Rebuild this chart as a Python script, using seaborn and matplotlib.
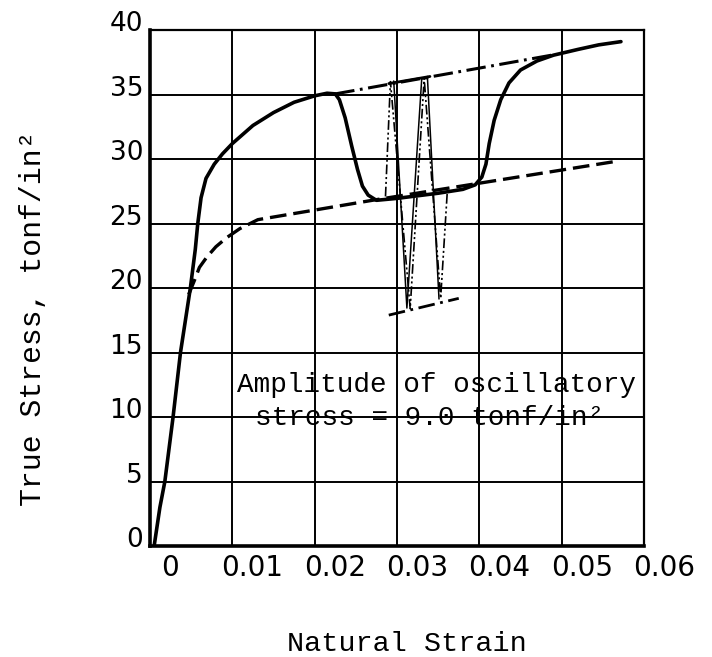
import pandas as pd
import matplotlib
matplotlib.use("Agg")
import matplotlib.pyplot as plt
import matplotlib.transforms as mtransforms
import seaborn as sns

# ===== DADOS =====
# curva continua: ensaio com tensao oscilatoria
solid_strain = [0.0005, 0.0012, 0.0018, 0.0028, 0.0037, 0.0049, 0.0055, 0.0058, 0.0062,
                0.0068, 0.0078, 0.0088, 0.0100, 0.0125, 0.0150, 0.0175, 0.0200, 0.0215,
                0.0225, 0.0230, 0.0237, 0.0245, 0.0252, 0.0258, 0.0265, 0.0275, 0.0300,
                0.0350, 0.0380, 0.0395, 0.0403, 0.0408, 0.0412, 0.0418, 0.0426, 0.0436,
                0.0450, 0.0470, 0.0490, 0.0520, 0.0545, 0.0572]
solid_stress = [0.0, 3.0, 5.0, 10.0, 15.0, 20.0, 23.0, 25.0, 27.0,
                28.5, 29.6, 30.4, 31.2, 32.6, 33.6, 34.4, 34.9, 35.1,
                35.05, 34.6, 33.2, 31.0, 29.2, 27.9, 27.2, 26.8, 26.95,
                27.35, 27.65, 28.0, 28.6, 29.6, 31.2, 33.0, 34.6, 35.9,
                36.9, 37.6, 38.05, 38.5, 38.85, 39.1]

# curva tracejada: ensaio estatico
dashed_strain = [0.0047, 0.0054, 0.0060, 0.0069, 0.0080, 0.0093, 0.0109, 0.0131, 0.0270, 0.0564]
dashed_stress = [19.5, 20.6, 21.6, 22.4, 23.2, 23.9, 24.6, 25.3, 26.8, 29.8]

# linha traco-ponto superior (envelope)
upper_strain = [0.0225, 0.0492]
upper_stress = [35.05, 38.1]

# oscilacao (linhas finas)
osc_strain = [0.0286, 0.0292, 0.0316, 0.0333, 0.0353, 0.0361]
osc_stress = [27.1, 36.0, 18.4, 36.25, 19.2, 27.4]
osc2_strain = [0.0296, 0.0312, 0.0330, 0.0337, 0.0351]
osc2_stress = [36.05, 18.45, 36.2, 36.25, 19.15]

# envelopes curtos da oscilacao
top_env_strain = [0.0290, 0.0340]
top_env_stress = [35.85, 36.4]
low_env_strain = [0.0290, 0.0375]
low_env_stress = [17.9, 19.2]

xtick_values = [0, 0.01, 0.02, 0.03, 0.04, 0.05, 0.06]
xtick_labels = ["0", "0.01", "0.02", "0.03", "0.04", "0.05", "0.06"]
ytick_values = [0, 5, 10, 15, 20, 25, 30, 35, 40]
ytick_labels = ["0", "5", "10", "15", "20", "25", "30", "35", "40"]

note_line1 = "Amplitude of oscillatory"
note_line2 = "stress = 9.0 tonf/in\u00b2"

# ===== ESTILO =====
sns.set_theme(style="white")
plt.rcParams["font.family"] = ["DejaVu Sans"]
plt.rcParams["lines.scale_dashes"] = False
MONO = ["Liberation Mono", "DejaVu Sans Mono"]


def draw(ax, xs, ys, lw, ls="-"):
    df = pd.DataFrame({"strain": xs, "stress": ys})
    sns.lineplot(data=df, x="strain", y="stress", sort=False, estimator=None, ax=ax,
                 color="black", linewidth=lw, linestyle=ls,
                 solid_joinstyle="round", solid_capstyle="round")


fig = plt.figure(figsize=(7.12, 6.57), dpi=100)
ax = fig.add_axes([0.2107, 0.1689, 0.6938, 0.7854])

draw(ax, dashed_strain, dashed_stress, 2.4, (0, (12, 5)))
draw(ax, upper_strain, upper_stress, 2.2, (0, (14, 4, 2, 4)))
draw(ax, osc_strain, osc_stress, 1.2, (0, (7, 2, 1.5, 2, 1.5, 2)))
draw(ax, osc2_strain, osc2_stress, 1.1)
draw(ax, top_env_strain, top_env_stress, 2.0)
draw(ax, low_env_strain, low_env_stress, 2.0, (0, (12, 4, 2, 4)))
draw(ax, solid_strain, solid_stress, 2.6)

ax.set_xlim(0, 0.06)
ax.set_ylim(0, 40)
ax.set_xticks(xtick_values)
ax.set_xticklabels(xtick_labels, fontsize=20)
ax.set_yticks(ytick_values)
ax.set_yticklabels(ytick_labels, fontsize=19)
ax.tick_params(axis="both", length=0, colors="black")
ax.tick_params(axis="x", pad=6)
ax.tick_params(axis="y", pad=5)

# deslocamento dos rotulos como na figura datilografada
dx = mtransforms.ScaledTranslation(0.20, 0, fig.dpi_scale_trans)
for lab in ax.get_xticklabels():
    lab.set_transform(lab.get_transform() + dx)
dy = mtransforms.ScaledTranslation(0, 0.09, fig.dpi_scale_trans)
for lab in ax.get_yticklabels():
    lab.set_transform(lab.get_transform() + dy)

ax.grid(True, color="black", linewidth=1.4)
ax.set_axisbelow(True)
for side in ["left", "bottom"]:
    ax.spines[side].set_linewidth(2.6)
for side in ["top", "right"]:
    ax.spines[side].set_linewidth(1.6)
for sp in ax.spines.values():
    sp.set_color("black")

ax.set_xlabel("Natural Strain", family=MONO, fontsize=20.5, color="black",
              ha="center", va="center")
ax.xaxis.set_label_coords(0.52, -0.19)
ax.set_ylabel("True Stress, tonf/in\u00b2", family=MONO, fontsize=21.5, color="black",
              ha="center", va="center")
ax.yaxis.set_label_coords(-0.237, 0.442)

ax.text(0.01056, 11.96, note_line1, family=MONO, fontsize=20, color="black",
        ha="left", va="baseline")
ax.text(0.01274, 9.38, note_line2, family=MONO, fontsize=20, color="black",
        ha="left", va="baseline")

fig.savefig("out.png", dpi=100, facecolor="white")
